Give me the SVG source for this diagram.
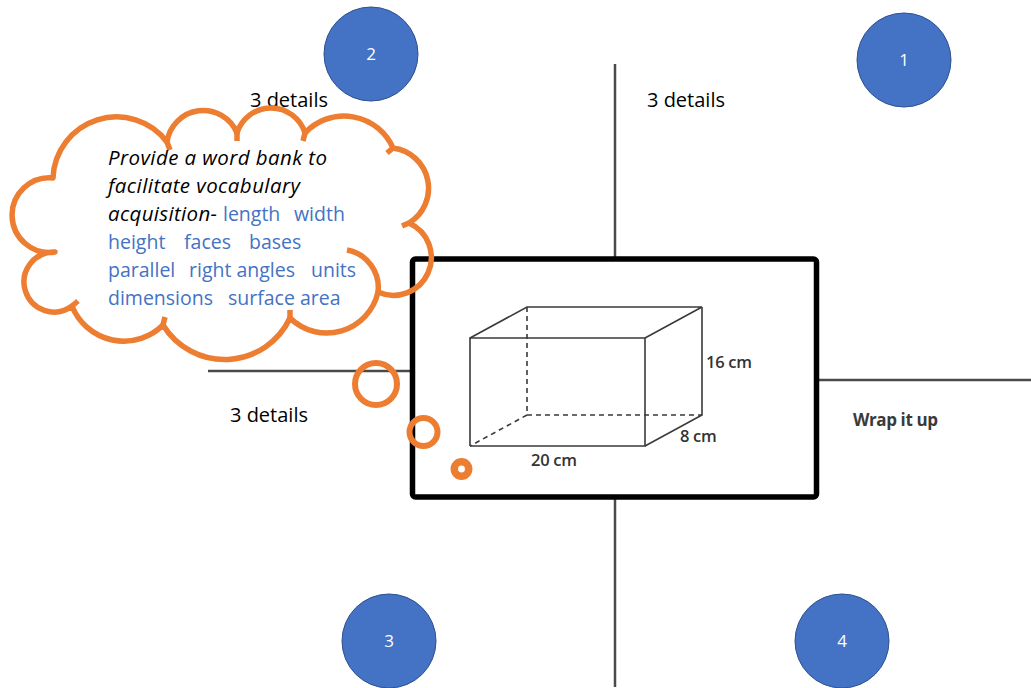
<svg xmlns="http://www.w3.org/2000/svg" width="1031" height="688" viewBox="0 0 1031 688">
  <style>
    .axis { stroke: #4a4a4a; stroke-width: 2.5; fill: none; }
    .badge circle { fill: #4472C4; stroke: #2F528F; stroke-width: 1; }
    .badge text { fill: #ffffff; font-family: "Open Sans", "Liberation Sans", sans-serif; font-size: 17px; text-anchor: middle; }
    .label { fill: #000000; font-family: "Open Sans", "Liberation Sans", sans-serif; font-size: 20px; }
    .edge { stroke: #3a3a3a; stroke-width: 1.6; fill: none; }
    .hidden { stroke: #3a3a3a; stroke-width: 1.6; fill: none; stroke-dasharray: 5 4; }
    .dim { fill: #333333; font-family: "Open Sans", "Liberation Sans", sans-serif; font-size: 16.5px; font-weight: 600; letter-spacing: -0.3px; }
    .cloud { fill: none; stroke: #ED7D31; stroke-width: 5.5; stroke-linejoin: round; }
    .bubble { fill: none; stroke: #ED7D31; }
    .note { font-family: "Open Sans", "Liberation Sans", sans-serif; font-size: 19.5px; }
    .note .i { fill: #000000; font-style: italic; font-size: 20.5px; }
    .note .w { fill: #4472C4; }
  </style>

  <!-- quadrant axes -->
  <g id="connectors">
    <line class="axis" x1="615" y1="64" x2="615" y2="258"/>
    <line class="axis" x1="615" y1="499" x2="615" y2="687"/>
    <line class="axis" x1="208" y1="371" x2="411" y2="371"/>
    <line class="axis" x1="818" y1="380" x2="1031" y2="380"/>
  </g>

  <!-- numbered badges -->
  <g id="badge-1" class="badge">
    <circle cx="904" cy="60" r="47"/>
    <text x="904" y="66">1</text>
  </g>
  <g id="badge-2" class="badge">
    <circle cx="371" cy="54" r="47"/>
    <text x="371" y="60">2</text>
  </g>
  <g id="badge-3" class="badge">
    <circle cx="389" cy="641" r="47"/>
    <text x="389" y="647">3</text>
  </g>
  <g id="badge-4" class="badge">
    <circle cx="842" cy="641" r="47"/>
    <text x="842" y="647">4</text>
  </g>

  <!-- quadrant labels -->
  <g id="label-top-left"><text class="label" x="250" y="107">3 details</text></g>
  <g id="label-top-right"><text class="label" x="647" y="107">3 details</text></g>
  <g id="label-left"><text class="label" x="230" y="422">3 details</text></g>
  <g id="label-right">
    <text x="853" y="426" style="fill:#3a3a3a;font-family:'Open Sans','Liberation Sans',sans-serif;font-size:17px;font-weight:700;letter-spacing:-0.4px">Wrap it up</text>
  </g>

  <!-- central picture frame with rectangular prism -->
  <g id="prism-box">
    <rect x="412.5" y="259" width="404" height="238" rx="3" fill="#ffffff" stroke="#000000" stroke-width="5.5"/>
    <polyline class="edge" points="470,446 470,338 645,338 645,446 470,446"/>
    <polyline class="edge" points="470,338 527,307 702,307 645,338"/>
    <polyline class="edge" points="702,307 702,415 645,446"/>
    <line class="hidden" x1="527" y1="307" x2="527" y2="415"/>
    <line class="hidden" x1="527" y1="415" x2="702" y2="415"/>
    <line class="hidden" x1="527" y1="415" x2="470" y2="446"/>
    <text class="dim" x="706" y="368">16 cm</text>
    <text class="dim" x="680" y="442">8 cm</text>
    <text class="dim" x="531" y="466">20 cm</text>
  </g>

  <!-- thought cloud with word bank -->
  <g id="word-bank-cloud">
    <path class="cloud" d="M 53 178 A 63.5 63.5 0 0 1 167 142 A 36.6 36.6 0 0 1 237 133 A 35.6 35.6 0 0 1 305 133 A 53.5 53.5 0 0 1 393 148 A 40.6 40.6 0 0 1 409 223 A 37.8 37.8 0 1 1 378 292 A 52.5 52.5 0 0 1 290 318 A 72.2 72.2 0 0 1 163 325 A 55.7 55.7 0 0 1 72 306 A 30 30 0 1 1 55 252 A 37.3 37.3 0 1 1 53 178 Z"/>
    <path class="cloud" d="M 347 250 A 38 38 0 0 1 378 292"/>
    <path class="cloud" d="M 167 142 L 170 150 M 237 133 L 237 141 M 305 133 L 303 141 M 393 148 L 387 153 M 409 223 L 402 226 M 290 318 L 290 310 M 163 325 L 165 317 M 72 306 L 78 301"/>
    <text class="note">
      <tspan class="i" x="108" y="165" textLength="219">Provide a word bank to</tspan>
      <tspan class="i" x="108" y="193" textLength="192">facilitate vocabulary</tspan>
      <tspan class="i" x="108" y="221" textLength="109">acquisition-</tspan>
      <tspan class="w" x="223" y="221">length</tspan>
      <tspan class="w" x="294" y="221">width</tspan>
      <tspan class="w" x="108" y="249">height</tspan>
      <tspan class="w" x="184" y="249">faces</tspan>
      <tspan class="w" x="249" y="249">bases</tspan>
      <tspan class="w" x="108" y="277">parallel</tspan>
      <tspan class="w" x="189" y="277">right angles</tspan>
      <tspan class="w" x="311" y="277">units</tspan>
      <tspan class="w" x="108" y="305">dimensions</tspan>
      <tspan class="w" x="228" y="305">surface area</tspan>
    </text>
  </g>

  <!-- trailing thought bubbles -->
  <g id="thought-bubbles">
    <circle class="bubble" cx="376" cy="384" r="21" stroke-width="6"/>
    <circle class="bubble" cx="423.5" cy="432" r="14" stroke-width="6"/>
    <circle class="bubble" cx="461.5" cy="469" r="7.2" stroke-width="7.5"/>
  </g>
</svg>
